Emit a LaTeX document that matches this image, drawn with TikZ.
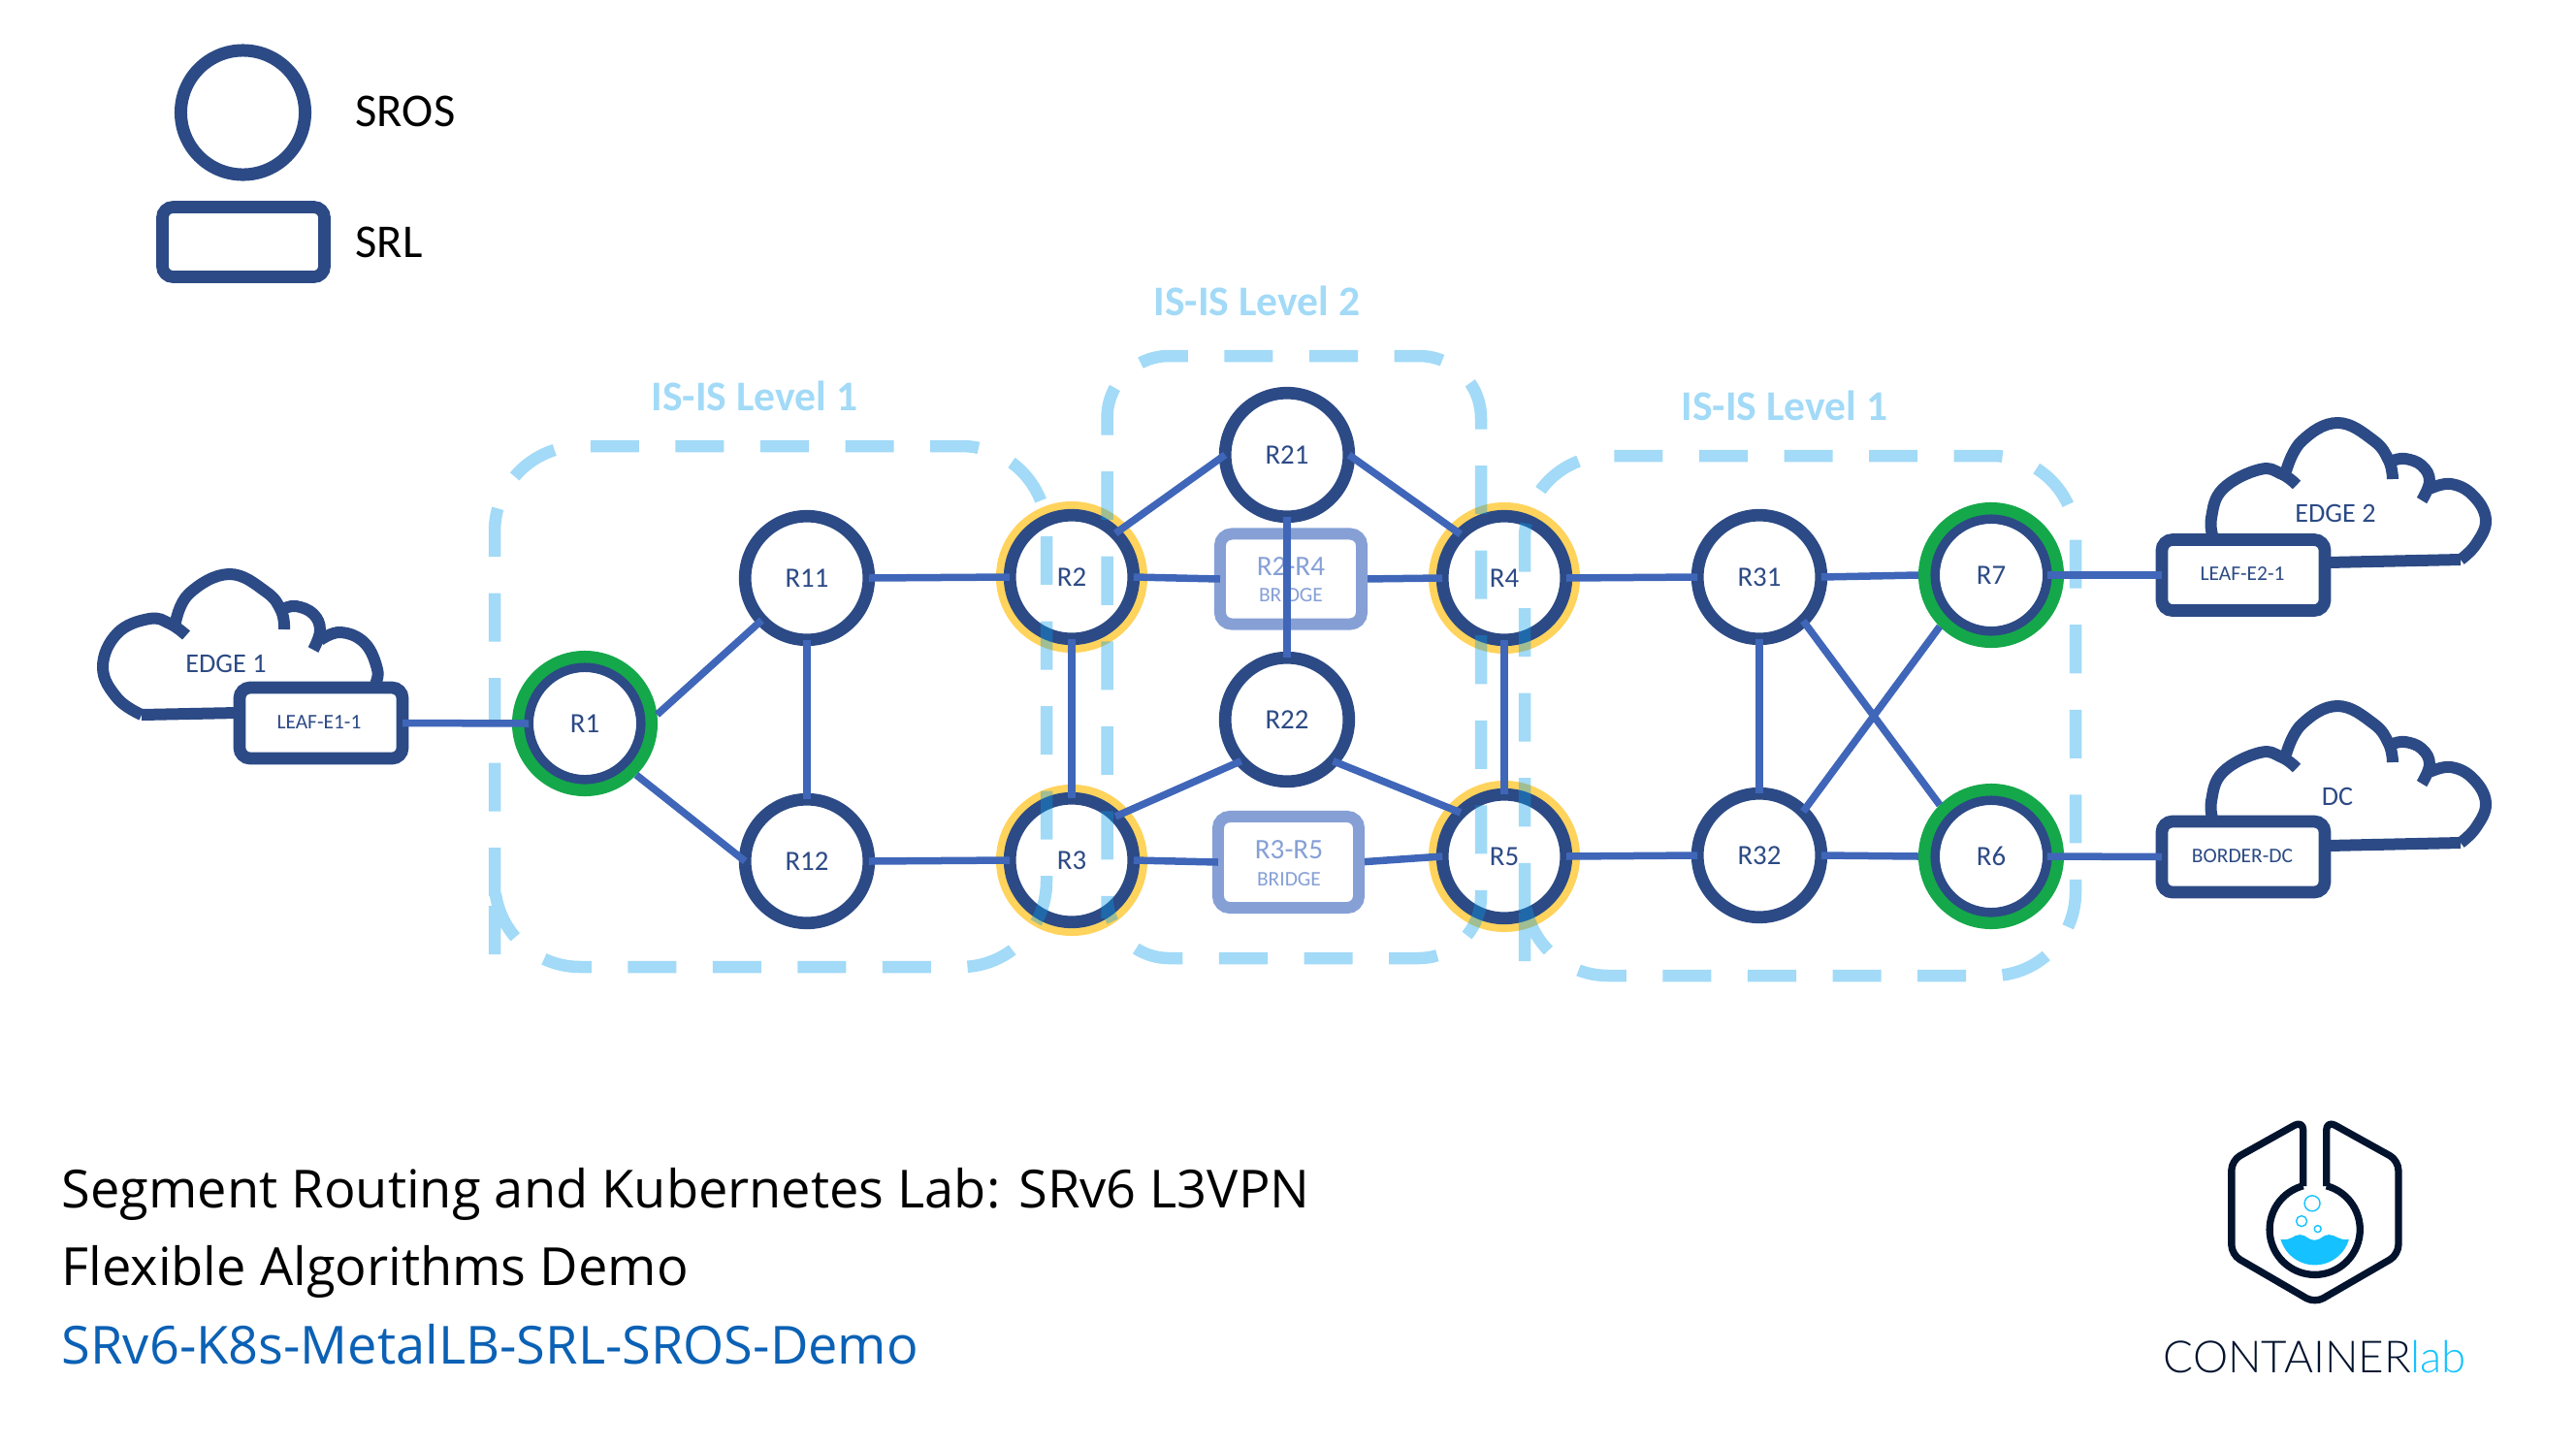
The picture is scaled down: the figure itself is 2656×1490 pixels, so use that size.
\documentclass[tikz,border=0pt]{standalone}
\usepackage{fontspec}
\setmainfont{Carlito}
\newfontfamily\titlefont{Open Sans}
\newfontfamily\logofont{Lato}[UprightFont=* Light]
\definecolor{dk}{HTML}{2C4A85}
\definecolor{lnk}{HTML}{3F66B8}
\definecolor{gold}{HTML}{FFD35C}
\definecolor{grn}{HTML}{14A84A}
\definecolor{brg}{HTML}{86A0D6}
\definecolor{isis}{HTML}{0A9EEA}
\definecolor{isistxt}{HTML}{A2DAF7}
\definecolor{logodk}{HTML}{02132E}
\definecolor{logobl}{HTML}{15C2FF}
\definecolor{ttl}{HTML}{0B61B5}
\tikzset{
  rtr/.style={circle,draw=dk,line width=.127cm,fill=white,minimum size=1.275cm,inner sep=0,outer sep=0},
  rtrsm/.style={circle,draw=dk,line width=.095cm,fill=white,minimum size=1.155cm,inner sep=0,outer sep=0},
  goldring/.style={circle,fill=gold,minimum size=1.56cm,inner sep=0,outer sep=0},
  grnring/.style={circle,fill=grn,minimum size=1.5cm,inner sep=0,outer sep=0},
  srl/.style={rectangle,rounded corners=.11cm,draw=dk,line width=.127cm,fill=white,minimum width=1.68cm,minimum height=.73cm,inner sep=0,outer sep=0},
  brbox/.style={rectangle,rounded corners=.12cm,draw=brg,line width=.12cm,fill=white,minimum width=1.46cm,minimum height=.93cm,inner sep=0,outer sep=0},
  lk/.style={draw=lnk,line width=.075cm},
  isisbox/.style={draw=isis,draw opacity=.38,line width=.125cm,dash pattern=on .5cm off .375cm},
  cloudline/.style={draw=dk,line width=.12cm},
  lbl/.style={text=dk,font=\fontsize{8.2}{9}\selectfont,inner sep=0},
  lblsm/.style={text=dk,font=\fontsize{6.1}{7}\selectfont,inner sep=0},
  lblcl/.style={text=dk,font=\fontsize{8}{9}\selectfont,inner sep=0},
  isistitle/.style={text=isistxt,font=\fontsize{12.4}{14}\selectfont\bfseries,inner sep=0},
  brlbl/.style={text=brg,font=\fontsize{8.3}{9}\selectfont,inner sep=0},
  brsub/.style={text=brg,font=\fontsize{6.1}{7}\selectfont,inner sep=0},
  legendtxt/.style={text=black,font=\fontsize{13.8}{15}\selectfont,inner sep=0,anchor=west},
  titletxt/.style={font=\titlefont\fontsize{15.4}{18}\selectfont,inner sep=0,anchor=base west},
}
\begin{document}
\begin{tikzpicture}[x=.01cm,y=-.01cm]
\useasboundingbox (0,0) rectangle (2656,1490);
% legend
\node[rtr,line width=.13cm,minimum size=1.28cm] (legA) at (250.5,116) {};
\node[srl,minimum width=1.67cm,minimum height=.72cm] (legB) at (251,249.5) {};
\node[legendtxt] (legAt) at (366,115) {SROS};
\node[legendtxt] (legBt) at (366,250) {SRL};
% clouds
\draw[cloudline] plot[smooth,tension=.7] coordinates {(146,737)(121,720)(106,688)(121,653)(154,638)(175,643)(192,655)};
\draw[cloudline] plot[smooth,tension=.7] coordinates {(181,642)(195,612)(236,592)(274,610)(290,630)(293,649)};
\draw[cloudline] plot[smooth,tension=.7] coordinates {(292,628)(305,625)(323,633)(330,650)(323,670)};
\draw[cloudline] plot[smooth,tension=.7] coordinates {(330,660)(351,652)(376,663)(389,690)(387,705)};
\draw[cloudline] (146,737) -- (245,735);
\foreach \dy in {0,292}{
\begin{scope}[shift={(0,\dy)}]
\draw[cloudline] plot[smooth,tension=.7] coordinates {(2282,555)(2280,534)(2292,504)(2330,484)(2353,489)(2368,500)};
\draw[cloudline] plot[smooth,tension=.7] coordinates {(2357,486)(2373,455)(2410,436)(2447,454)(2463,475)(2467,494)};
\draw[cloudline] plot[smooth,tension=.7] coordinates {(2467,475)(2480,473)(2497,480)(2505,496)(2497,516)};
\draw[cloudline] plot[smooth,tension=.7] coordinates {(2505,504)(2527,499)(2550,511)(2563,536)(2553,561)(2537,577)};
\draw[cloudline] (2537,577) -- (2400,580);
\end{scope}}
% boxes
\node[srl] (E1) at (331,745.5) {};
\node[srl] (E2) at (2313,593) {};
\node[srl] (DCb) at (2313,883.5) {};
\node[brbox] (B24) at (1331,597) {};
\node[brbox,minimum width=1.45cm,minimum height=.94cm] (B35) at (1328.5,889) {};
% rings
\foreach \n/\p in {R2o/{1105,595},R3o/{1105,887},R4o/{1551,596},R5o/{1551,883}}
  \node[goldring] (\n) at (\p) {};
\foreach \n/\p in {R1o/{603,746},R7o/{2053,593},R6o/{2053,883}}
  \node[grnring] (\n) at (\p) {};
\node[rtrsm] (R1) at (603,746) {};
\node[rtrsm] (R7) at (2053,593) {};
\node[rtrsm] (R6) at (2053,883) {};
\foreach \n/\p in {R2/{1105,595},R3/{1105,887},R4/{1551,596},R5/{1551,883},R11/{832,596},R12/{832,888},R21/{1327,469},R22/{1327,742},R31/{1814,595},R32/{1814,882}}
  \node[rtr] (\n) at (\p) {};
% IS-IS areas
\draw[isisbox,rounded corners=.88cm] (510,896) -- (510,997) -- (1079,997) -- (1079,460) -- (510,460) -- cycle;
\draw[isisbox,rounded corners=.64cm] (1141.5,883) -- (1141.5,988) -- (1527,988) -- (1527,367) -- (1141.5,367) -- cycle;
\draw[isisbox,rounded corners=.86cm] (1572,905) -- (1572,1006) -- (2140,1006) -- (2140,470) -- (1572,470) -- cycle;
% links
\draw[lk] (E1.east) -- (R1.west);
\draw[lk] (R1o.7) -- (R11.223);
\draw[lk] (R1o.-45) -- (R12.180);
\draw[lk] (R11.south) -- (R12.north);
\draw[lk] (R11.east) -- (R2.west);
\draw[lk] (R12.east) -- (R3.west);
\draw[lk] (R2.45) -- (R21.180);
\draw[lk] (R21.0) -- (R4.135);
\draw[lk] (R2.east) -- (B24.west);
\draw[lk,shorten <=.06cm] (B24.east) -- (R4.west);
\draw[lk] (R3.east) -- (B35.west);
\draw[lk,shorten <=.06cm] (B35.east) -- (R5.west);
\draw[lk] (R2.south) -- (R3.north);
\draw[lk] (R4.south) -- (R5.north);
\draw[lk] (R22.222) -- (R3.45);
\draw[lk] (R22.318) -- (R5.135);
\draw[lk] (R4.east) -- (R31.west);
\draw[lk] (R5.east) -- (R32.west);
\draw[lk] (R31.south) -- (R32.north);
\draw[lk] (R31.east) -- (R7o.west);
\draw[lk] (R32.east) -- (R6o.west);
\draw[lk] (R31.-45) -- (R6o.135);
\draw[lk] (R32.45) -- (R7o.225);
\draw[lk] (R7.east) -- (E2.west);
\draw[lk] (R6.east) -- (DCb.west);
% labels
\foreach \n in {R1,R2,R3,R4,R5,R6,R7,R11,R12,R21,R22,R31,R32}
  \node[lbl] (t\n) at (\n) {\n};
\node[brlbl] (tB24) at (1331,584) {R2-R4};
\node[brsub] (tB24s) at (1331,614) {BRIDGE};
\node[brlbl] (tB35) at (1329,876) {R3-R5};
\node[brsub] (tB35s) at (1329,907) {BRIDGE};
\draw[lk] (R21.south) -- (R22.north);
\node[lblsm] (tE1) at (329,745) {LEAF-E1-1};
\node[lblsm] (tE2) at (2312,592) {LEAF-E2-1};
\node[lblsm] (tDCb) at (2312,883) {BORDER-DC};
\node[lblcl] (cE1) at (233,684) {EDGE 1};
\node[lblcl] (cE2) at (2408,529) {EDGE 2};
\node[lblcl] (cDC) at (2410,821) {DC};
\node[isistitle] (i1) at (778,408) {IS-IS Level 1};
\node[isistitle] (i2) at (1296,310) {IS-IS Level 2};
\node[isistitle] (i3) at (1840,418) {IS-IS Level 1};
% title
\node[titletxt] (t1) at (63,1245) {Segment Routing and Kubernetes Lab: SRv6 L3VPN};
\node[titletxt] (t2) at (63,1325) {Flexible Algorithms Demo};
\node[titletxt,text=ttl] (t3) at (63,1406) {SRv6-K8s-MetalLB-SRL-SROS-Demo};
% logo
\begin{scope}[shift={(2200,1130)},x=.003333cm,y=-.003333cm]
\draw[draw=logodk,line width=.073cm,rounded corners=.1cm,line join=round] (525,280) -- (525,76) -- (303,200) -- (303,492) -- (561,642) -- (820,492) -- (820,200) -- (597,76) -- (597,280);
\draw[draw=logodk,line width=.073cm] plot[domain=255:-75,samples=80] ({561+140*cos(\x)},{414+140*sin(\x)});
\fill[logobl] (455,445) .. controls (490,448) and (495,430) .. (515,430) .. controls (535,430) and (540,447) .. (560,447) .. controls (580,447) and (585,430) .. (605,430) .. controls (625,430) and (635,448) .. (665,445) -- plot[domain=16:164,samples=30] ({561+110*cos(\x)},{414+110*sin(\x)}) -- cycle;
\draw[logobl,line width=.014cm] (553,333) circle[radius=.08cm];
\draw[logobl,line width=.014cm] (520,388) circle[radius=.055cm];
\draw[logobl,line width=.014cm] (570,412) circle[radius=.035cm];
\end{scope}
\node[inner sep=0,anchor=base west,text=logodk,font=\logofont\fontsize{13}{15}\selectfont] (logot) at (2230,1415) {CONTAINER\textcolor{logobl}{lab}};
\end{tikzpicture}
\end{document}
